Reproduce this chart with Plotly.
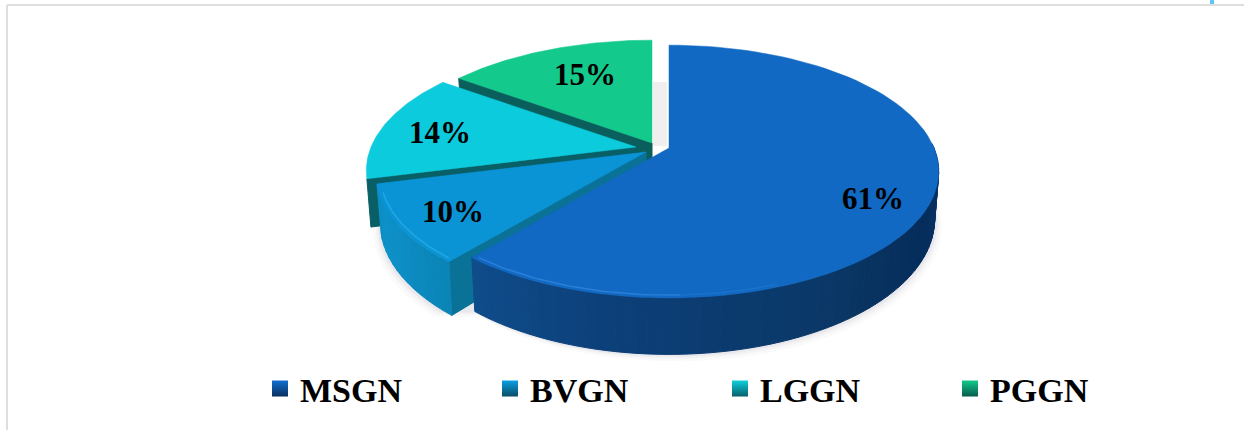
import numpy as np
import plotly.graph_objects as go

categories = ["MSGN", "BVGN", "LGGN", "PGGN"]
values = [61, 10, 14, 15]
face_colors = ["#1169c3", "#0a94d6", "#0ccbdc", "#14c98c"]
legend_light = ["#0f6fd0", "#08a0e0", "#0cd0dc", "#12c98c"]
legend_dark = ["#0b2f5c", "#0b4d68", "#08606a", "#075c4c"]

# projection of the pie's plane (pixels on the axes)
A, B, K, DEPTH = 265.0, 122.0, 0.186, 46.0
apexes = {"MSGN": (669, 148), "BVGN": (646, 152), "LGGN": (636, 147), "PGGN": (652, 143)}
label_r = {"MSGN": 0.813, "BVGN": 0.805, "LGGN": 0.765, "PGGN": 0.68}
label_da = {"MSGN": 8.7, "BVGN": -1.6, "LGGN": -2.0, "PGGN": 2.5}
label_dy = 2


def proj(name, deg, r=1.0, drop=0.0):
    t = np.radians(np.asarray(deg, dtype=float))
    X, Y = r * np.sin(t), r * np.cos(t)
    w = 1 + K * Y
    ax, ay = apexes[name]
    shrink = 1 - 0.015 * (drop / DEPTH)
    return ax + shrink * A * X / w, ay - B * Y / w + drop / w


def hex2rgb(h):
    return np.array([int(h[i:i + 2], 16) for i in (1, 3, 5)], dtype=float)


def ramp(stops, n):
    rgb = np.array([hex2rgb(s) for s in stops])
    pos = np.linspace(0, 1, len(stops))
    out = []
    for u in np.linspace(0, 1, n):
        c = [np.interp(u, pos, rgb[:, j]) for j in range(3)]
        out.append("rgb(%d,%d,%d)" % tuple(round(v) for v in c))
    return out


bounds = np.concatenate([[0], np.cumsum(values)]) * 3.6
span = {c: (bounds[i], bounds[i + 1]) for i, c in enumerate(categories)}
fig = go.Figure()


def poly(x, y, color, line=None, lw=1):
    fig.add_trace(go.Scatter(x=list(x), y=list(y), mode="lines", fill="toself", fillcolor=color,
                             line=dict(color=line or color, width=lw), hoverinfo="skip", showlegend=False))


def face(name, color):
    a0, a1 = span[name]
    th = np.linspace(a0, a1, 90)
    x, y = proj(name, th)
    ax, ay = apexes[name]
    poly(np.r_[ax, x, ax], np.r_[ay, y, ay], color, lw=0.5)


def cut_wall(name, deg, color):
    xa, ya = proj(name, deg, 0.0)
    xb, yb = proj(name, deg, 1.0)
    xc, yc = proj(name, deg, 1.0, DEPTH)
    xd, yd = proj(name, deg, 0.0, DEPTH)
    poly([xa, xb, xc, xd, xa], [ya, yb, yc, yd, ya], color)


def arc_wall(name, a0, a1, stops, n):
    edges = np.linspace(a0, a1, n + 1)
    for i, col in enumerate(ramp(stops, n)):
        th = np.linspace(edges[i], edges[i + 1], 4)
        xt, yt = proj(name, th)
        xb, yb = proj(name, th, 1.0, DEPTH)
        poly(np.r_[xt, xb[::-1], xt[0]], np.r_[yt, yb[::-1], yt[0]], col)


def bevel(name, a0, a1, color):
    hl = np.linspace(a0, a1, 30)
    x, y = proj(name, hl, 0.985)
    fig.add_trace(go.Scatter(x=x, y=y, mode="lines", line=dict(color=color, width=1.5),
                             hoverinfo="skip", showlegend=False))


# soft shadow beneath the whole pie
th = np.linspace(85, 262, 90)
for grow, alpha in [(7, 0.035), (4.5, 0.05), (2.5, 0.07)]:
    x, y = proj("MSGN", th[th < 222], 1.0, DEPTH)
    x2, y2 = proj("BVGN", th[th >= 222], 1.0, DEPTH)
    xs = np.r_[x + grow, x2 - grow]
    ys = np.r_[y + grow, y2 + grow]
    poly(np.r_[xs, 560, xs[0]], np.r_[ys, 170, ys[0]], f"rgba(120,115,135,{alpha})", line="rgba(0,0,0,0)", lw=0)

# back to front
cut_wall("PGGN", span["PGGN"][0], "#0a5f5c")
face("PGGN", face_colors[3])
cut_wall("LGGN", span["LGGN"][0], "#085f66")
face("LGGN", face_colors[2])
cut_wall("BVGN", span["BVGN"][0], "#0a7296")
arc_wall("BVGN", span["BVGN"][0], span["BVGN"][1] - 0.5,
         ["#0b84b6", "#0c88bc", "#0c8cc2", "#0d8fc6", "#0d91c8", "#0d8ec4"], 14)
face("BVGN", face_colors[1])
arc_wall("MSGN", 88, span["MSGN"][1],
         ["#0a4585", "#08396f", "#062f60", "#052d5c", "#072f5e", "#08335f", "#0a3766",
          "#0a396b", "#0b3a6e", "#0c3d73", "#0c3f78", "#0d437e", "#0e4884", "#0f4c8a"], 70)
face("MSGN", face_colors[0])

# bevel highlights
bevel("MSGN", 160, 178, "rgba(70,150,235,0.2)")
bevel("MSGN", 178, span["MSGN"][1] - 1, "rgba(70,150,235,0.5)")
bevel("BVGN", span["BVGN"][0] + 1, span["BVGN"][1] - 4, "rgba(60,185,240,0.5)")

# percentage labels
lx, ly, lt = [], [], []
for c, v in zip(categories, values):
    a0, a1 = span[c]
    px, py = proj(c, (a0 + a1) / 2 + label_da[c], label_r[c])
    lx.append(float(px)); ly.append(float(py) + label_dy); lt.append(f"{v}%")
fig.add_trace(go.Scatter(x=lx, y=ly, text=lt, mode="text", textposition="middle center",
                         textfont=dict(family="Liberation Serif", size=31, color="#000", weight=700),
                         hoverinfo="skip", showlegend=False))

# legend entries
for c, l, d in zip(categories, legend_light, legend_dark):
    fig.add_trace(go.Scatter(x=[None], y=[None], mode="markers", name=c,
                             marker=dict(symbol="square", size=20, color=l,
                                         gradient=dict(type="vertical", color=d))))

fig.update_layout(
    width=1244, height=430, margin=dict(l=0, r=0, t=0, b=0),
    paper_bgcolor="white", plot_bgcolor="white",
    xaxis=dict(range=[0, 1244], visible=False, fixedrange=True),
    yaxis=dict(range=[430, 0], visible=False, fixedrange=True),
    showlegend=True,
    legend=dict(orientation="h", x=0.2090, xanchor="left", y=0.163, yanchor="top",
                entrywidth=185, entrywidthmode="pixels", itemwidth=30,
                bgcolor="rgba(0,0,0,0)",
                font=dict(family="Liberation Serif", size=34, color="#000", weight=700)),
    shapes=[
        dict(type="rect", xref="x", yref="y", x0=653, x1=667, y0=82, y1=146,
             fillcolor="#f1eeee", line=dict(width=0), layer="below"),
        dict(type="line", xref="x", yref="y", x0=7, x1=1244, y0=5, y1=5,
             line=dict(color="#dedede", width=2)),
        dict(type="line", xref="x", yref="y", x0=7, x1=7, y0=5, y1=430,
             line=dict(color="#dedede", width=2)),
        dict(type="line", xref="x", yref="y", x0=1212, x1=1212, y0=0, y1=4,
             line=dict(color="#5cc8f5", width=4)),
    ],
)
fig.write_html("out.html", config=dict(displayModeBar=False),
               post_script="document.body.style.margin='0';document.body.style.overflow='hidden';")
